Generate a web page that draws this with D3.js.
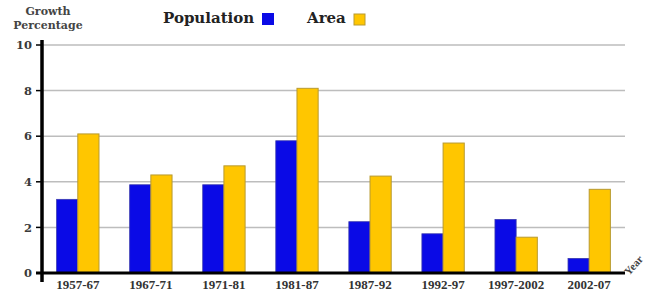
<!DOCTYPE html>
<html>
<head>
<meta charset="utf-8">
<script src="https://cdn.jsdelivr.net/npm/d3@7"></script>
<style>
  body { margin: 0; background: #fff; }
  text { font-weight: bold; }
  .times { font-family: "Liberation Serif", "Times New Roman", serif; }
  .wide { font-family: "DejaVu Serif", serif; }
</style>
</head>
<body>
<div id="chart"></div>
<script>
const periods = ["1957-67", "1967-71", "1971-81", "1981-87", "1987-92", "1992-97", "1997-2002", "2002-07"];
const population = [3.23, 3.87, 3.87, 5.8, 2.25, 1.72, 2.35, 0.64];
const area = [6.1, 4.3, 4.7, 8.1, 4.25, 5.7, 1.57, 3.67];
const yTicks = [0, 2, 4, 6, 8, 10];

const width = 651, height = 293;
const axisX = 42, axisY = 273, axisEnd = 625;

const svg = d3.select("#chart").append("svg")
    .attr("width", width)
    .attr("height", height);

const x = d3.scaleBand()
    .domain(periods)
    .range([42, 625])
    .paddingInner(0.42)
    .paddingOuter(0.2);

const sub = d3.scaleBand()
    .domain(["population", "area"])
    .range([0, x.bandwidth()]);

const y = d3.scaleLinear()
    .domain([0, 10])
    .range([axisY, 45]);

// gridlines
svg.append("g")
    .selectAll("line")
    .data(yTicks.filter(d => d > 0))
    .enter().append("line")
    .attr("x1", axisX)
    .attr("x2", axisEnd)
    .attr("y1", d => y(d))
    .attr("y2", d => y(d))
    .style("stroke", "#bdbdbd")
    .style("stroke-width", 1.5);

// bars
const groups = svg.append("g")
    .selectAll("g")
    .data(periods)
    .enter().append("g")
    .attr("transform", d => "translate(" + x(d) + ",0)");

groups.append("rect")
    .attr("x", sub("population"))
    .attr("width", sub.bandwidth())
    .attr("y", (d, i) => y(population[i]))
    .attr("height", (d, i) => axisY - y(population[i]))
    .style("fill", "#0a0ae6")
    .style("stroke", "#3a3ab0")
    .style("stroke-width", 0.8);

groups.append("rect")
    .attr("x", sub("area"))
    .attr("width", sub.bandwidth())
    .attr("y", (d, i) => y(area[i]))
    .attr("height", (d, i) => axisY - y(area[i]))
    .style("fill", "#ffc600")
    .style("stroke", "#b89a30")
    .style("stroke-width", 1);

// axes
svg.append("line")
    .attr("x1", axisX).attr("x2", axisX)
    .attr("y1", 40).attr("y2", 282)
    .style("stroke", "#000")
    .style("stroke-width", 3.5);

svg.append("line")
    .attr("x1", 36).attr("x2", axisEnd)
    .attr("y1", axisY).attr("y2", axisY)
    .style("stroke", "#000")
    .style("stroke-width", 3);

const yAxis = svg.append("g");
yAxis.selectAll("line")
    .data(yTicks)
    .enter().append("line")
    .attr("x1", axisX - 6).attr("x2", axisX)
    .attr("y1", d => y(d)).attr("y2", d => y(d))
    .style("stroke", "#000")
    .style("stroke-width", 1.5);

yAxis.selectAll("text")
    .data(yTicks)
    .enter().append("text")
    .attr("class", "wide")
    .attr("x", 32)
    .attr("y", d => y(d))
    .attr("dy", "0.36em")
    .attr("text-anchor", "end")
    .style("font-size", "11.5px")
    .style("fill", "#3a3a3a")
    .text(d => d);

svg.append("g")
    .selectAll("text")
    .data(periods)
    .enter().append("text")
    .attr("class", "times")
    .attr("x", d => x(d) + x.bandwidth() / 2)
    .attr("y", 289)
    .attr("text-anchor", "middle")
    .style("font-size", "13px")
    .style("fill", "#333")
    .text(d => d);

svg.append("text")
    .attr("class", "times")
    .attr("transform", "translate(629,276) rotate(-48)")
    .style("font-size", "11px")
    .style("fill", "#444")
    .text("Year");

// y title
svg.append("text")
    .attr("class", "wide")
    .attr("x", 48)
    .attr("y", 15)
    .attr("text-anchor", "middle")
    .style("font-size", "11px")
    .style("fill", "#444")
    .text("Growth");
svg.append("text")
    .attr("class", "wide")
    .attr("x", 48)
    .attr("y", 29)
    .attr("text-anchor", "middle")
    .style("font-size", "11px")
    .style("fill", "#444")
    .text("Percentage");

// legend
svg.append("text")
    .attr("class", "wide")
    .attr("x", 163)
    .attr("y", 23)
    .style("font-size", "15px")
    .style("fill", "#222")
    .text("Population");
svg.append("rect")
    .attr("x", 262).attr("y", 13)
    .attr("width", 12).attr("height", 12)
    .style("fill", "#0a0ae6");

svg.append("text")
    .attr("class", "wide")
    .attr("x", 307)
    .attr("y", 23)
    .style("font-size", "15px")
    .style("fill", "#222")
    .text("Area");
svg.append("rect")
    .attr("x", 354).attr("y", 14)
    .attr("width", 11).attr("height", 11)
    .style("fill", "#ffc600")
    .style("stroke", "#b89a30");
</script>
</body>
</html>
